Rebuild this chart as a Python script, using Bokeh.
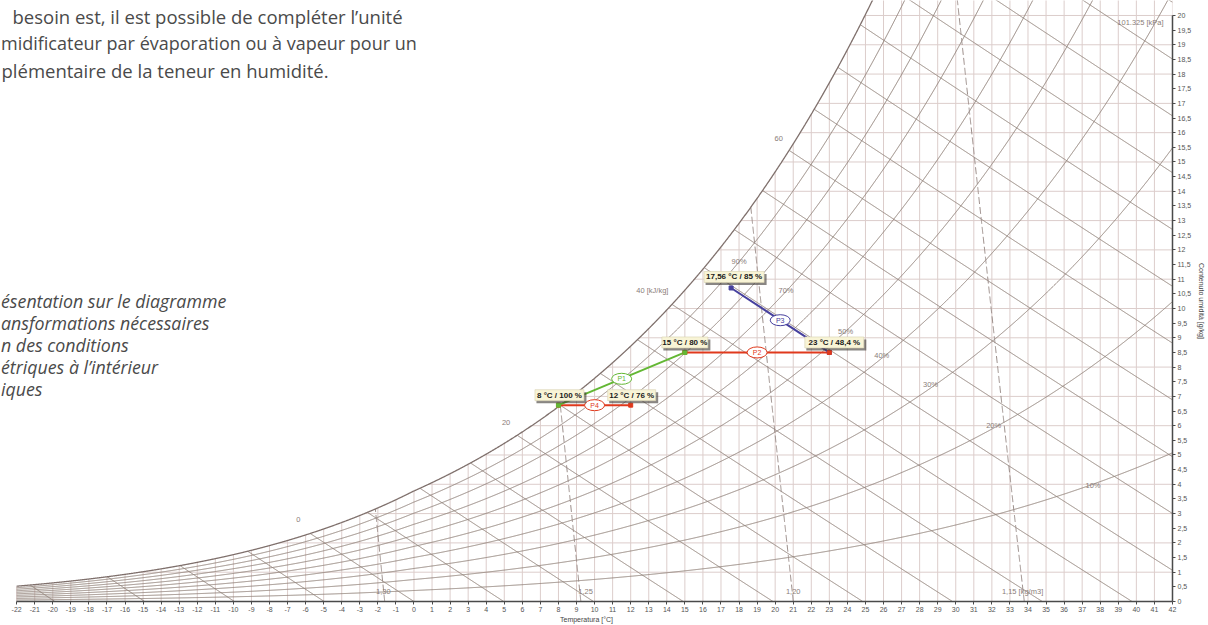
import numpy as np
from bokeh.plotting import figure
from bokeh.models import Range1d, FixedTicker, ColumnDataSource
from bokeh.core.properties import value
from bokeh.embed import file_html
from bokeh.resources import INLINE

# ---------------- values ----------------
temperature_ticks = list(range(-22, 43))
temperature_tick_labels = [str(t) for t in temperature_ticks]
moisture_ticks = [i * 0.5 for i in range(41)]
moisture_tick_labels = ["0", "0,5", "1", "1,5", "2", "2,5", "3", "3,5", "4", "4,5",
                        "5", "5,5", "6", "6,5", "7", "7,5", "8", "8,5", "9", "9,5",
                        "10", "10,5", "11", "11,5", "12", "12,5", "13", "13,5", "14", "14,5",
                        "15", "15,5", "16", "16,5", "17", "17,5", "18", "18,5", "19", "19,5", "20"]

state_names = ["8 °C / 100 %", "12 °C / 76 %", "15 °C / 80 %", "23 °C / 48,4 %", "17,56 °C / 85 %"]
state_temperature = [8.0, 12.0, 15.0, 23.0, 17.56]
state_moisture = [6.7, 6.7, 8.5, 8.5, 10.7]

process_names = ["P4", "P2", "P3", "P1"]
process_from = [0, 2, 3, 0]
process_to = [1, 3, 4, 2]
process_colors = ["#e0391c", "#e0391c", "#46409e", "#63b734"]

rh_levels = [10, 20, 30, 40, 50, 60, 70, 80, 90]
rh_label_names = ["90%", "70%", "50%", "40%", "30%", "20%", "10%"]
rh_label_temperature = [18.0, 20.6, 23.9, 25.9, 28.6, 32.1, 37.6]
rh_label_moisture = [11.6, 10.6, 9.2, 8.4, 7.4, 6.0, 3.95]

enthalpy_levels = list(range(-20, 100, 5))
enthalpy_label_names = ["0", "20", "40 [kJ/kg]", "60"]
enthalpy_label_temperature = [-6.4, 5.1, 13.2, 20.2]
enthalpy_label_moisture = [2.8, 6.1, 10.6, 15.8]

density_levels = [1.30, 1.25, 1.20, 1.15]
density_label_names = ["1,30", "1,25", "1,20", "1,15 [kg/m3]"]
density_label_temperature = [-1.7, 9.5, 21.0, 33.7]
density_label_moisture = [0.35, 0.35, 0.35, 0.35]

pressure_kpa = 101.325
pressure_label = "101.325 [kPa]"

doc_lines = ["besoin est, il est possible de compléter l\u2019unité",
             "midificateur par évaporation ou à vapeur pour un",
             "plémentaire de la teneur en humidité."]
caption_lines = ["ésentation sur le diagramme",
                 "ansformations nécessaires",
                 "n des conditions",
                 "étriques à l\u2019intérieur",
                 "iques"]

# ---------------- layout (page pixels) ----------------
W, H = 1208, 625
FRAME_W, FRAME_H = 1172, 602
PX_PER_DEG = 18.06
PX_PER_G = 29.35
X0 = -413.5 / PX_PER_DEG
X1 = X0 + FRAME_W / PX_PER_DEG + 0.003
Y1 = FRAME_H / PX_PER_G


def px_t(px):
    return X0 + px / PX_PER_DEG


def py_m(py):
    return (FRAME_H - py) / PX_PER_G


# ---------------- psychrometric chart construction ----------------
def p_sat(t):
    t = np.asarray(t, float)
    water = 0.61094 * np.exp(17.625 * t / (t + 243.04))
    ice = 0.61115 * np.exp(22.452 * t / (272.55 + t))
    return np.where(t >= 0, water, ice)


def hum_ratio(t, rh):
    pv = rh * p_sat(t)
    return 622.0 * pv / (pressure_kpa - pv)


T_fine = np.linspace(-22, 42, 3201)
sat = hum_ratio(T_fine, 1.0)
YLIM = 21.0

p = figure(width=W, height=H, x_range=Range1d(X0, X1), y_range=Range1d(0, Y1),
           output_backend="svg", toolbar_location=None, title=None,
           x_axis_location="below", y_axis_location="right",
           min_border=0, min_border_left=0, min_border_top=0,
           min_border_right=36, min_border_bottom=23,
           styles={"position": "absolute", "left": "0px", "top": "0px"})
p.xgrid.visible = False
p.ygrid.visible = False
p.outline_line_color = None
p.background_fill_color = "white"
p.border_fill_color = "white"

GRID = "#dccdcb"
CURVE = "#908079"
LBL = "#8a7d78"

# vertical grid (isotherms)
vx0, vy0, vx1, vy1 = [], [], [], []
for t in temperature_ticks:
    top = min(float(hum_ratio(t, 1.0)), YLIM)
    vx0.append(t); vy0.append(0); vx1.append(t); vy1.append(top)
p.segment(vx0, vy0, vx1, vy1, line_color=GRID, line_width=1)

# horizontal grid (moisture content)
hx0, hy0, hx1, hy1 = [], [], [], []
for m in range(1, 21):
    t0 = float(np.interp(m, sat, T_fine))
    hx0.append(t0); hy0.append(m); hx1.append(42); hy1.append(m)
p.segment(hx0, hy0, hx1, hy1, line_color=GRID, line_width=1)

# relative humidity curves
rh_xs, rh_ys = [], []
for rh in rh_levels:
    xm = hum_ratio(T_fine, rh / 100.0)
    k = xm <= YLIM
    rh_xs.append(T_fine[k].tolist()); rh_ys.append(xm[k].tolist())
p.multi_line(rh_xs, rh_ys, line_color=CURVE, line_width=1)

# enthalpy lines
en_xs, en_ys = [], []
for h in enthalpy_levels:
    xm = 1000.0 * (h - 1.006 * T_fine) / (2501.0 + 1.86 * T_fine)
    k = (xm >= 0) & (xm <= sat) & (xm <= YLIM)
    if k.sum() > 1:
        en_xs.append(T_fine[k].tolist()); en_ys.append(xm[k].tolist())
p.multi_line(en_xs, en_ys, line_color=CURVE, line_width=1)

# density lines
m_fine = np.linspace(0, YLIM, 600)
de_xs, de_ys = [], []
for rho in density_levels:
    tt = pressure_kpa * 1000 * (1 + m_fine / 1000) / (287.05 * rho * (1 + 1.6078 * m_fine / 1000)) - 273.15
    k = m_fine <= hum_ratio(tt, 1.0)
    de_xs.append(tt[k].tolist()); de_ys.append(m_fine[k].tolist())
p.multi_line(de_xs, de_ys, line_color="#9a8c88", line_width=1, line_dash="7 3")

# saturation curve
ks = sat <= YLIM
p.line(T_fine[ks], sat[ks], line_color="#7f706c", line_width=1.3)

# chart labels
p.text(rh_label_temperature, rh_label_moisture, text=rh_label_names, text_font=value("Liberation Sans"),
       text_font_size="7.5px", text_color=LBL, text_align="center", text_baseline="middle")
p.text(enthalpy_label_temperature, enthalpy_label_moisture, text=enthalpy_label_names,
       text_font=value("Liberation Sans"), text_font_size="7.5px", text_color=LBL,
       text_align="center", text_baseline="middle")
p.text(density_label_temperature, density_label_moisture, text=density_label_names,
       text_font=value("Liberation Sans"), text_font_size="7.5px", text_color=LBL,
       text_align="center", text_baseline="middle")
p.text([px_t(1140)], [py_m(22)], text=[pressure_label], text_font=value("Liberation Sans"),
       text_font_size="7.5px", text_color=LBL, text_align="center", text_baseline="middle")

# processes
seg = ColumnDataSource(dict(
    x0=[state_temperature[i] for i in process_from], y0=[state_moisture[i] for i in process_from],
    x1=[state_temperature[i] for i in process_to], y1=[state_moisture[i] for i in process_to],
    color=process_colors, name=process_names,
    mx=[(state_temperature[a] + state_temperature[b]) / 2 for a, b in zip(process_from, process_to)],
    my=[(state_moisture[a] + state_moisture[b]) / 2 for a, b in zip(process_from, process_to)],
))
p.segment("x0", "y0", "x1", "y1", source=seg, line_color="color", line_width=2)
p.scatter("x0", "y0", source=seg, marker="square", size=4, color="color")
p.scatter("x1", "y1", source=seg, marker="square", size=4, color="color")
p.ellipse("mx", "my", width=20, height=11, width_units="screen", height_units="screen",
          source=seg, fill_color="white", line_color="color", line_width=1)
p.text("mx", "my", text="name", source=seg, text_font=value("Liberation Sans"), text_font_size="7px",
       text_color="color", text_align="center", text_baseline="middle")

# state boxes
box_dx = [1, 1, 0, 5, 3]
box_dy = [10, 10, 10, 10, 11]
box_w = [49, 48, 46, 59, 60]
bx = [t + d / PX_PER_DEG for t, d in zip(state_temperature, box_dx)]
by = [m + d / PX_PER_G for m, d in zip(state_moisture, box_dy)]
p.rect([x + 2 / PX_PER_DEG for x in bx], [y - 2.5 / PX_PER_G for y in by], width=[w + 1 for w in box_w],
       height=11, width_units="screen", height_units="screen", fill_color="#3a3530", fill_alpha=0.6,
       line_color=None)
p.rect(bx, by, width=box_w, height=11, width_units="screen", height_units="screen",
       fill_color="#f8f4d6", line_color="#d8d2b0", line_width=0.6)
p.text(bx, by, text=state_names, text_font=value("Liberation Sans"), text_font_size="8px",
       text_font_style="bold", text_color="#1a1a1a", text_align="center", text_baseline="middle")

# surrounding document text
p.text([px_t(12), px_t(1)], [py_m(16), py_m(70)], text=[doc_lines[0], doc_lines[2]],
       text_font=value("Open Sans"), text_font_size="18.5px", text_color="#4a4a4a",
       text_align="left", text_baseline="alphabetic")
p.text([px_t(0.5)], [py_m(43)], text=[doc_lines[1]],
       text_font=value("Open Sans"), text_font_size="18px", text_color="#4a4a4a",
       text_align="left", text_baseline="alphabetic")
p.text([px_t(0.5)] * 5, [py_m(y) for y in [301, 323, 345, 367, 389]], text=caption_lines,
       text_font=value("Open Sans"), text_font_size="17.8px", text_font_style="italic",
       text_color="#4a4a4a", text_align="left", text_baseline="alphabetic")

# axes
xa = p.xaxis[0]
ya = p.yaxis[0]
xa.ticker = FixedTicker(ticks=temperature_ticks)
xa.major_label_overrides = {t: l for t, l in zip(temperature_ticks, temperature_tick_labels)}
ya.ticker = FixedTicker(ticks=moisture_ticks)
ya.major_label_overrides = {t: l for t, l in zip(moisture_ticks, moisture_tick_labels)}
xa.bounds = (-22, 42)
ya.bounds = (0, 20)
xa.axis_label = "Temperatura [°C]"
ya.axis_label = "Contenuto umidità [g/kg]"
for ax in (xa, ya):
    ax.axis_line_color = "#4a4a4a"
    ax.axis_line_width = 1.5
    ax.major_tick_line_color = "#4a4a4a"
    ax.major_tick_in = 0
    ax.major_tick_out = 3
    ax.minor_tick_line_color = None
    ax.major_label_standoff = 2
    ax.major_label_text_font = "Liberation Sans"
    ax.major_label_text_font_size = "7px"
    ax.major_label_text_color = "#555555"
    ax.axis_label_text_font = "Liberation Sans"
    ax.axis_label_text_font_size = "7px"
    ax.axis_label_text_font_style = "normal"
    ax.axis_label_text_color = "#444444"
xa.axis_label_standoff = 1
ya.axis_label_standoff = 4

open("out.html", "w").write(file_html(p, INLINE))
